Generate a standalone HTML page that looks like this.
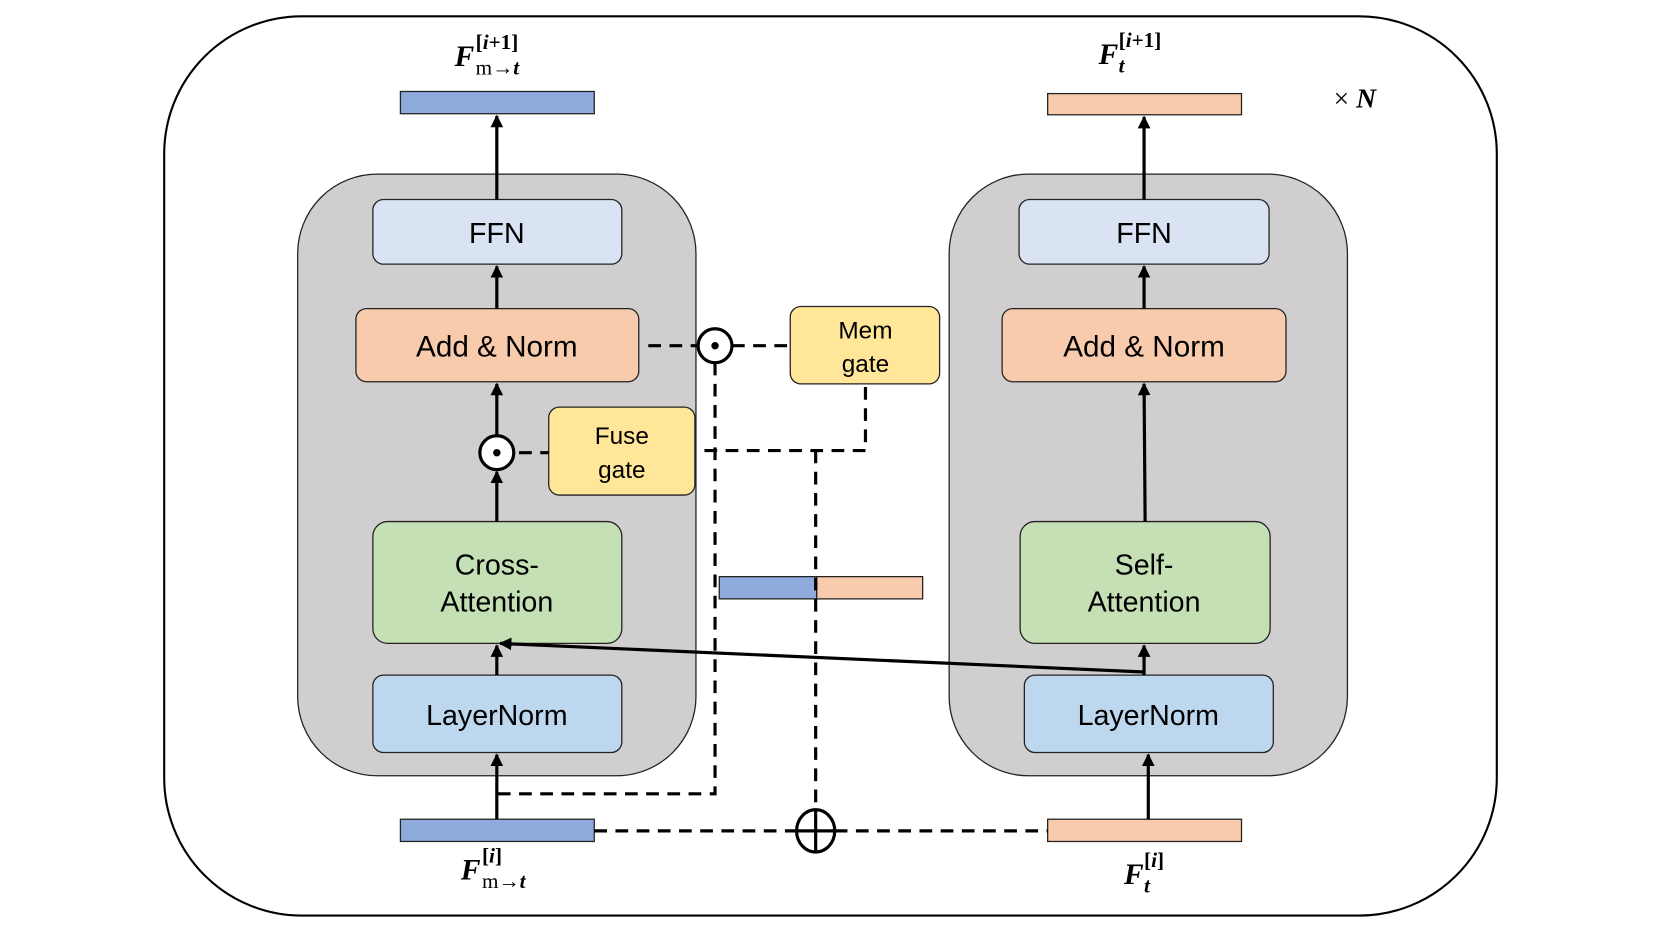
<!DOCTYPE html>
<html><head><meta charset="utf-8"><style>html,body{margin:0;padding:0;background:#fff}svg{display:block}</style></head>
<body>
<svg width="1661" height="934" viewBox="0 0 1568 881" xmlns="http://www.w3.org/2000/svg">
<defs>
<marker id="ar" viewBox="0 0 10 10" refX="9" refY="5" markerWidth="4" markerHeight="4" orient="auto"><path d="M0,0L10,5L0,10z" fill="#000"/></marker>
</defs>
<rect x="155" y="15" width="1258" height="849" rx="130" fill="#fff" stroke="#000" stroke-width="2"/>
<rect x="281" y="164" width="376" height="568" rx="75" fill="#d0cece" stroke="#222" stroke-width="1.2"/>
<rect x="896" y="164" width="376" height="568" rx="75" fill="#d0cece" stroke="#222" stroke-width="1.2"/>
<g stroke="#222" stroke-width="1.2">
<rect x="352" y="188" width="235" height="61" rx="10" fill="#dae3f3"/>
<rect x="962" y="188" width="236" height="61" rx="10" fill="#dae3f3"/>
<rect x="336" y="291" width="267" height="69" rx="10" fill="#f8cbad"/>
<rect x="946" y="291" width="268" height="69" rx="10" fill="#f8cbad"/>
<rect x="518" y="384" width="138" height="83" rx="10" fill="#ffe699"/>
<rect x="746" y="289" width="141" height="73" rx="10" fill="#ffe699"/>
<rect x="352" y="492" width="235" height="115" rx="14" fill="#c5e0b4"/>
<rect x="963" y="492" width="236" height="115" rx="14" fill="#c5e0b4"/>
<rect x="352" y="637" width="235" height="73" rx="10" fill="#bdd7ee"/>
<rect x="967" y="637" width="235" height="73" rx="10" fill="#bdd7ee"/>
<rect x="378" y="86" width="183" height="21" fill="#8faadc"/>
<rect x="989" y="88" width="183" height="20" fill="#f8cbad"/>
<rect x="378" y="773" width="183" height="21" fill="#8faadc"/>
<rect x="989" y="773" width="183" height="21" fill="#f8cbad"/>
<rect x="679" y="544" width="92" height="21" fill="#8faadc"/>
<rect x="771" y="544" width="100" height="21" fill="#f8cbad"/>
</g>
<g font-family="Liberation Sans, DejaVu Sans, sans-serif" font-size="27" text-anchor="middle" fill="#000">
<text x="469" y="229">FFN</text><text x="1080" y="229">FFN</text>
<text x="469" y="336" font-size="28">Add &amp; Norm</text><text x="1080" y="336" font-size="28">Add &amp; Norm</text>
<text x="587" y="419" font-size="23">Fuse</text><text x="587" y="451" font-size="23">gate</text>
<text x="817" y="319" font-size="23">Mem</text><text x="817" y="351" font-size="23">gate</text>
<text x="469" y="542">Cross-</text><text x="469" y="577">Attention</text>
<text x="1080" y="542">Self-</text><text x="1080" y="577">Attention</text>
<text x="469" y="684">LayerNorm</text><text x="1084" y="684">LayerNorm</text>
</g>
<g stroke="#000" stroke-width="3" fill="none">
<line x1="469" y1="773" x2="469" y2="712" marker-end="url(#ar)"/>
<line x1="469" y1="637" x2="469" y2="609" marker-end="url(#ar)"/>
<line x1="469" y1="492" x2="469" y2="445" marker-end="url(#ar)"/>
<line x1="469" y1="411" x2="469" y2="362" marker-end="url(#ar)"/>
<line x1="469" y1="291" x2="469" y2="251" marker-end="url(#ar)"/>
<line x1="469" y1="188" x2="469" y2="109" marker-end="url(#ar)"/>
<line x1="1084" y1="773" x2="1084" y2="712" marker-end="url(#ar)"/>
<line x1="1080" y1="637" x2="1080" y2="609" marker-end="url(#ar)"/>
<line x1="1081" y1="492" x2="1080" y2="362" marker-end="url(#ar)"/>
<line x1="1080" y1="291" x2="1080" y2="251" marker-end="url(#ar)"/>
<line x1="1080" y1="188" x2="1080" y2="110" marker-end="url(#ar)"/>
<line x1="1080" y1="634" x2="472" y2="607" marker-end="url(#ar)"/>
</g>
<g stroke="#000" stroke-width="3" fill="none" stroke-dasharray="12,8">
<line x1="612" y1="326" x2="659" y2="326"/>
<line x1="691" y1="326" x2="746" y2="326"/>
<polyline points="675,342 675,749 469,749"/>
<polyline points="817,365 817,425 658,425"/>
<line x1="770" y1="425" x2="770" y2="766"/>
<line x1="490" y1="427" x2="518" y2="427"/>
<line x1="561" y1="784" x2="752" y2="784"/>
<line x1="788" y1="784" x2="989" y2="784"/>
</g>
<g stroke="#000" stroke-width="3" fill="#fff">
<ellipse cx="675" cy="326" rx="16" ry="16"/>
<ellipse cx="469" cy="427" rx="16" ry="16"/>
<ellipse cx="770" cy="784" rx="18" ry="20"/>
<line x1="752" y1="784" x2="788" y2="784"/><line x1="770" y1="764" x2="770" y2="804"/>
</g>
<circle cx="675" cy="326" r="3.5"/><circle cx="469" cy="427" r="3.5"/>
<g font-family="Liberation Serif, DejaVu Serif, serif" fill="#000">
<text x="429" y="62" font-size="28" font-weight="bold" font-style="italic">F</text>
<text x="449" y="46" font-size="20" font-weight="bold">[<tspan font-style="italic">i</tspan>+1]</text>
<text x="449" y="70" font-size="20">m→<tspan font-weight="bold" font-style="italic">t</tspan></text>
<text x="1037" y="60" font-size="28" font-weight="bold" font-style="italic">F</text>
<text x="1056" y="44" font-size="20" font-weight="bold">[<tspan font-style="italic">i</tspan>+1]</text>
<text x="1056" y="68" font-size="20" font-weight="bold" font-style="italic">t</text>
<text x="435" y="830" font-size="28" font-weight="bold" font-style="italic">F</text>
<text x="455" y="814" font-size="20" font-weight="bold">[<tspan font-style="italic">i</tspan>]</text>
<text x="455" y="838" font-size="20">m→<tspan font-weight="bold" font-style="italic">t</tspan></text>
<text x="1061" y="834" font-size="28" font-weight="bold" font-style="italic">F</text>
<text x="1080" y="818" font-size="20" font-weight="bold">[<tspan font-style="italic">i</tspan>]</text>
<text x="1080" y="842" font-size="20" font-weight="bold" font-style="italic">t</text>
<text x="1259" y="101" font-size="26">× <tspan font-weight="bold" font-style="italic">N</tspan></text>
</g>
</svg>
</body></html>
